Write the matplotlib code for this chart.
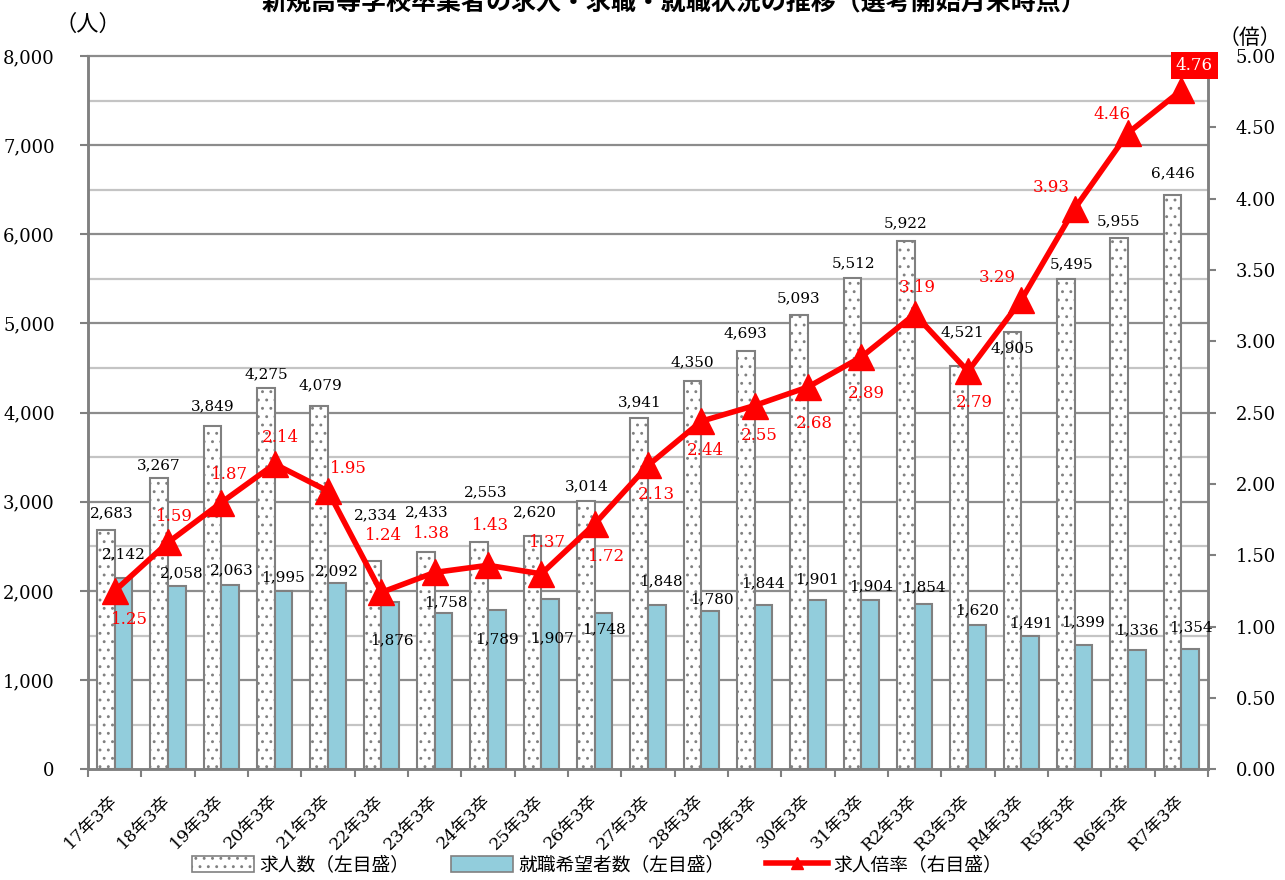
# coding=utf-8
# 新規高等学校卒業者の求人・求職・就職状況の推移（選考開始月末時点）

import matplotlib
matplotlib.use("Agg")
import matplotlib.pyplot as plt
from matplotlib.patches import Patch
from matplotlib.lines import Line2D

plt.rcParams['font.family'] = ['DejaVu Serif', 'Noto Sans CJK JP']

# 卒業年
labels = ["17年3卒", "18年3卒", "19年3卒", "20年3卒", "21年3卒", "22年3卒", "23年3卒",
          "24年3卒", "25年3卒", "26年3卒", "27年3卒", "28年3卒", "29年3卒", "30年3卒",
          "31年3卒", "R2年3卒", "R3年3卒", "R4年3卒", "R5年3卒", "R6年3卒", "R7年3卒"]
# 求人数（左目盛）
jobs = [2683, 3267, 3849, 4275, 4079, 2334, 2433, 2553, 2620, 3014, 3941,
        4350, 4693, 5093, 5512, 5922, 4521, 4905, 5495, 5955, 6446]
# 就職希望者数（左目盛）
seekers = [2142, 2058, 2063, 1995, 2092, 1876, 1758, 1789, 1907, 1748, 1848,
           1780, 1844, 1901, 1904, 1854, 1620, 1491, 1399, 1336, 1354]
# 求人倍率（右目盛）
ratio = [1.25, 1.59, 1.87, 2.14, 1.95, 1.24, 1.38, 1.43, 1.37, 1.72, 2.13,
         2.44, 2.55, 2.68, 2.89, 3.19, 2.79, 3.29, 3.93, 4.46, 4.76]

# ラベル位置の調整（ピクセル）
jobs_off = [(6, 17), (-1, 13), (0, 20), (0, 14), (1, 20), (3, 46), (1, 40), (6, 49),
            (2, 23), (1, 14), (1, 16), (0, 19), (0, 18), (-1, 17), (1, 15), (0, 18),
            (3, 34), (0, -16), (6, 15), (-1, 17), (0, 21)]
seek_off = [(0, 24), (5, 13), (2, 15), (0, 14), (0, 11), (2, -38), (2, 10), (0, -30),
            (2, -39), (0, -16), (4, 23), (2, 11), (0, 22), (0, 21), (1, 13), (0, 17),
            (0, 15), (1, 13), (0, 22), (0, 20), (1, 21)]
ratio_off = [(15, -29), (6, 26), (8, 28), (6, 27), (20, 23), (2, 57), (-3, 39), (3, 40),
             (6, 31), (12, -33), (8, -29), (4, -29), (5, -30), (6, -37), (5, -36), (3, 27),
             (6, -31), (-24, 22), (-23, 21), (-16, 19), (13, 25)]

GRAY = '#808080'
BLUE = '#92CDDC'
RED = '#FF0000'

fig = plt.figure(figsize=(12.85, 8.8), dpi=100)
ax = fig.add_axes([88/1285, 1-769.3/880, 1120/1285, 713.3/880])
ax2 = ax.twinx()

x = list(range(len(labels)))
w = 0.33
xj = [i - w/2 for i in x]
xs = [i + w/2 for i in x]

# 目盛線
for v in range(500, 8001, 500):
    if v % 1000 == 0:
        ax.axhline(v, color='#8c8c8c', lw=1.6, zorder=0, clip_on=False)
    else:
        ax.axhline(v, color='#c4c4c4', lw=1.6, zorder=0)

plt.rcParams['hatch.linewidth'] = 0.9
plt.rcParams['hatch.color'] = '#7a7a7a'
ax.bar(xj, jobs, width=w, color='white', edgecolor=GRAY, linewidth=1.5, hatch='..', zorder=2)
ax.bar(xs, seekers, width=w, color=BLUE, edgecolor=GRAY, linewidth=1.5, zorder=2)

ax.set_xlim(-0.5, len(labels) - 0.5)
ax.set_ylim(0, 8000)
ax.set_yticks(range(0, 8001, 1000))
ax.set_yticklabels([f"{v:,}" for v in range(0, 8001, 1000)], fontsize=13)

ax.set_xticks(x)
ax.set_xticklabels(labels, rotation=45, ha='right', va='center', rotation_mode='anchor',
                   fontsize=12.5)
ax.tick_params(axis='x', which='major', length=0, pad=21)
ax.set_xticks([i - 0.5 for i in range(len(labels) + 1)], minor=True)
ax.tick_params(axis='x', which='minor', length=6, width=1.5, color=GRAY, direction='out')
ax.tick_params(axis='y', length=6, width=1.5, color=GRAY, pad=18)

ax2.plot(x, ratio, color=RED, lw=4, marker='^', markersize=19, zorder=5)
ax2.set_ylim(0, 5)
ax2.set_yticks([i * 0.5 for i in range(11)])
ax2.set_yticklabels([f"{i * 0.5:.2f}" for i in range(11)], fontsize=13)
ax2.tick_params(axis='y', length=6, width=1.5, color=GRAY, pad=14)

for a in (ax, ax2):
    a.spines['top'].set_visible(False)
    for s in ('left', 'right', 'bottom'):
        a.spines[s].set_color(GRAY)
        a.spines[s].set_linewidth(1.8)

# データラベル
for i in x:
    ax2.annotate(f"{jobs[i]:,}", (xj[i], jobs[i]), xycoords=ax.transData,
                 xytext=jobs_off[i], textcoords='offset pixels',
                 ha='center', va='center', fontsize=11, zorder=6)
    ax2.annotate(f"{seekers[i]:,}", (xs[i], seekers[i]), xycoords=ax.transData,
                 xytext=seek_off[i], textcoords='offset pixels',
                 ha='center', va='center', fontsize=11, zorder=6)
    if i == len(x) - 1:
        ax2.annotate(f"{ratio[i]:.2f}", (i, ratio[i]), xytext=ratio_off[i],
                     textcoords='offset pixels', ha='center', va='center',
                     fontsize=12, color='white', zorder=7,
                     bbox=dict(boxstyle='square,pad=0.3', fc=RED, ec='none'))
    else:
        ax2.annotate(f"{ratio[i]:.2f}", (i, ratio[i]), xytext=ratio_off[i],
                     textcoords='offset pixels', ha='center', va='center',
                     fontsize=12, color=RED, zorder=7)

fig.text(674/1285, 1 - 3/880, "新規高等学校卒業者の求人・求職・就職状況の推移（選考開始月末時点）",
         ha='center', va='center', fontsize=18, fontweight='bold', family='Noto Sans CJK JP')
fig.text(88/1285, 1 - 24/880, "（人）", ha='center', va='center', fontsize=16,
         family='Noto Sans CJK JP')
fig.text(1250/1285, 1 - 38/880, "（倍）", ha='center', va='center', fontsize=15,
         family='Noto Sans CJK JP')

handles = [Patch(facecolor='white', edgecolor=GRAY, hatch='..', linewidth=1.2),
           Patch(facecolor=BLUE, edgecolor=GRAY, linewidth=1.2),
           Line2D([], [], color=RED, lw=4, marker='^', markersize=9)]
fig.legend(handles, ["求人数（左目盛）", "就職希望者数（左目盛）", "求人倍率（右目盛）"],
           loc='center', bbox_to_anchor=(597/1285, 1 - 865/880), ncol=3, frameon=False,
           prop={'family': 'Noto Sans CJK JP', 'size': 13.5}, handlelength=3.3,
           handleheight=0.9, columnspacing=2.2, handletextpad=0.3)

fig.savefig("out.png", dpi=100)
